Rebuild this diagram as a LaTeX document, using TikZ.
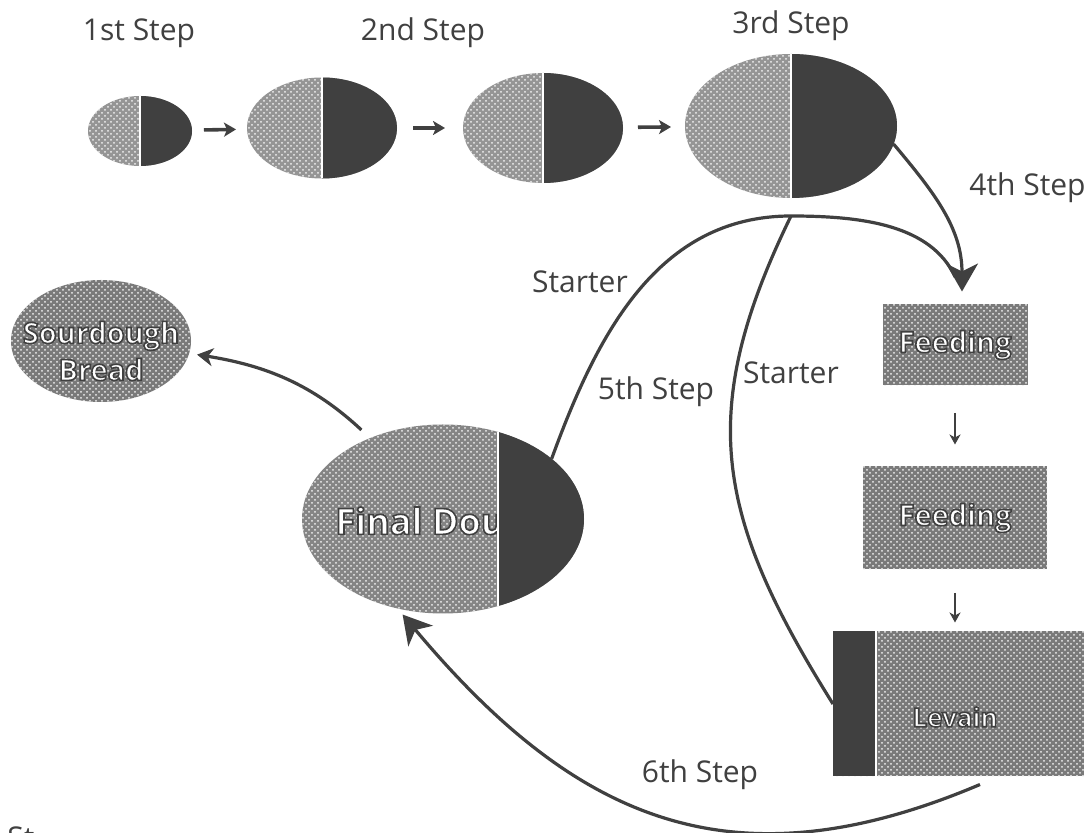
\documentclass[tikz,border=0pt]{standalone}
\usepackage{fontspec}
\setmainfont{Open Sans}
\usetikzlibrary{positioning,calc,shapes.geometric,arrows.meta,patterns}

\definecolor{ink}{HTML}{404040}
\definecolor{dough}{HTML}{959595}
\definecolor{mash}{HTML}{7A7A7A}
\definecolor{crumb}{HTML}{858585}

\tikzset{
  egg/.style={ellipse, inner sep=0pt, outer sep=0pt, fill=dough},
  tray/.style={rectangle, inner sep=0pt, outer sep=0pt, fill=mash},
  grain/.style={postaction={pattern=crosshatch dots, pattern color=white!85!dough}},
  steplabel/.style={font=\fontsize{15}{18}\selectfont, text=ink, inner sep=0pt},
  tag/.style={font=\bfseries\fontsize{14.5}{18.5}\selectfont, text=white, inner sep=0pt, align=center},
  conn/.style={draw=ink, line width=1.6pt},
  bighead/.style={conn, -{Stealth[length=14pt, width=16pt, inset=4pt]}},
  midhead/.style={conn, -{Stealth[length=8pt, width=9pt, inset=2.5pt]}},
  nudge/.style={draw=ink, line width=1.8pt, -{Stealth[length=6pt, width=7pt, inset=1.5pt]}},
  drop/.style={draw=ink, line width=0.9pt, -{Stealth[length=5pt, width=5.5pt, inset=1.5pt]}}
}

% white letters with a dark rim
\newcommand{\rim}[1]{\special{pdf:literal direct 2 Tr 0.8 w 0.251 0.251 0.251 RG}#1\special{pdf:literal direct 0 Tr}}

% egg, light on the left, dark on the right
\newcommand{\halfegg}[4]{%
  \node[egg, grain, minimum width=#3, minimum height=#4, #2] (#1) {};
  \begin{scope}
    \clip (#1.north) rectangle ([xshift=#3]#1.south);
    \node[egg, fill=ink, minimum width=#3, minimum height=#4] at (#1) {};
  \end{scope}
  \draw[white, line width=0.7pt] (#1.north) -- (#1.south);}

\begin{document}
\begin{tikzpicture}[x=0.5pt, y=0.5pt]
  \fill[white] (0,0) rectangle (1088,-833);
  \useasboundingbox (0,0) rectangle (1088,-833);

  % Define nodes
  \halfegg{e1}{at={(140,-131)}}{52pt}{35pt}
  \halfegg{e2}{right=27.5pt of e1, yshift=1.5pt}{75pt}{50.5pt}
  \halfegg{e3}{right=33pt of e2}{80pt}{55pt}
  \halfegg{e4}{right=31pt of e3, yshift=1pt}{106pt}{72pt}

  \node[tray, grain, minimum width=72.5pt, minimum height=40.5pt] (f1) at (955,-345) {};
  \node[tray, grain, minimum width=92pt, minimum height=51.5pt, below=40.5pt of f1] (f2) {};
  \node[tray, grain, minimum width=125.5pt, minimum height=72.5pt, below=31pt of f2, xshift=1.75pt] (lev) {};
  \fill[ink] (lev.north west) rectangle ([xshift=21.5pt]lev.south west);
  \draw[white, line width=0.7pt] ([xshift=21.5pt]lev.north west) -- ([xshift=21.5pt]lev.south west);

  \node[egg, grain, fill=mash, minimum width=90pt, minimum height=61pt] (sb) at (101,-341) {};

  \node[egg, grain, fill=crumb, minimum width=141pt, minimum height=94.5pt] (fd) at (443,-519) {};
  \node[tag, anchor=west, font=\bfseries\fontsize{18}{22}\selectfont] (fdtext) at (335,-525) {\rim{Final Dough}};
  \begin{scope}
    \clip ([xshift=27.5pt]fd.north) rectangle ([xshift=80pt]fd.south);
    \node[egg, fill=ink, minimum width=141pt, minimum height=94.5pt] at (fd) {};
  \end{scope}
  \draw[white, line width=0.7pt] ([xshift=27.5pt, yshift=-3.75pt]fd.north) -- ([xshift=27.5pt, yshift=3.75pt]fd.south);

  \node[tag] (f1text) at (f1) {\rim{Feeding}};
  \node[tag] (f2text) at (f2) {\rim{Feeding}};
  \node[tag, font=\bfseries\fontsize{13}{16}\selectfont] (levtext) at (955,-717) {\rim{Levain}};
  \node[tag] (sbtext) at (101,-351) {\rim{Sourdough}\\\rim{Bread}};

  % Labels
  \node[steplabel] (s1) at (139,-33) {1st Step};
  \node[steplabel] (s2) at (423,-33) {2nd Step};
  \node[steplabel] (s3) at (791,-26) {3rd Step};
  \node[steplabel, anchor=west] (s4) at (969,-188) {4th Step};
  \node[steplabel] (st1) at (580,-282) {Starter};
  \node[steplabel] (s5) at (656,-392) {5th Step};
  \node[steplabel] (st2) at (791,-373) {Starter};
  \node[steplabel] (s6) at (700,-775) {6th Step};
  \node[steplabel, anchor=north west] (s7) at (7,-826) {St};

  \coordinate (fork) at ([yshift=-9pt]e4.south);
  \coordinate (tip) at ([xshift=3.5pt, yshift=6.5pt]f1.north);

  % Connect the nodes
  \draw[nudge, shorten <=6pt, shorten >=5.5pt] (e1) -- (e2);
  \draw[nudge, shorten <=8pt, shorten >=9pt] (e2) -- (e3);
  \draw[nudge, shorten <=7.5pt, shorten >=7pt] (e3) -- (e4);
  \draw[drop, shorten <=13.75pt, shorten >=11pt] (f1) -- (f2);
  \draw[drop, shorten <=11.75pt, shorten >=4.5pt] (f2) -- (f2 |- lev.north);

  \draw[conn, shorten >=8pt] (fd.29) to[out=70, in=180] (fork) to[out=0, in=115] (tip);
  \draw[bighead] (e4.-10) to[out=-50, in=90] (tip);
  \draw[conn] (fork) to[out=-116, in=122, looseness=1.15] (lev.west);
  \draw[bighead, shorten >=4pt] ([xshift=10.75pt, yshift=-4pt]lev.south) to[out=-157, in=-50, looseness=1.15] (fd.-117);
  \draw[midhead, shorten <=6pt, shorten >=4pt] (fd.132) to[out=137, in=-9] (sb.-8);
\end{tikzpicture}
\end{document}
